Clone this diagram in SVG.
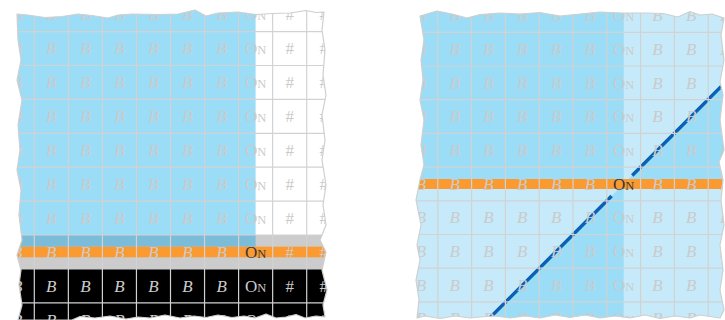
<svg xmlns="http://www.w3.org/2000/svg" width="725" height="320" viewBox="0 0 725 320">
<style>
.g{stroke:#d2d2d2;stroke-width:1.2;fill:none}
.t{font-family:"Liberation Serif",serif;font-size:17px;fill:#cbcbcb;text-anchor:middle}
.b{font-style:italic}
.n{font-size:12.5px}
.d{fill:#383838}
.edge{fill:none;stroke:#cfcfcf;stroke-width:1.2;stroke-linejoin:round}
</style>
<defs>
<path id="leftOutline" d="M17,14 L28,15 L45,17.5 L62,16.5 L78,14 L92,15.5 L108,18 L118,15 L132,14 L158,14.5 L178,14 L195,10 L206,16 L218,13 L238,12 L256,14.5 L272,13.5 L290,13 L306,10.5 L316,12.5 L324,12 L322,30 L325,50 L323,75 L326,95 L322,115 L325,140 L322,160 L326,185 L323,205 L326,225 L320,240 L326,252 L322,270 L327,290 L323,305 L325,317 L316,316 L305,318 L296,314.5 L286,317 L276,318 L266,314 L255,318 L244,316 L232,317.5 L218,315 L206,317.5 L194,316 L180,318 L165,315 L150,318 L138,317 L126,319 L110,316 L95,318 L80,316.5 L72,320 L18,320 L22,305 L19,285 L21,270 L17,255 L22,240 L19,215 L21,190 L17,170 L20,150 L18,125 L22,100 L17,80 L21,60 L18,40 Z"/>
<path id="rightOutline" d="M420,16 L437,11 L452,14 L467,18 L480,14.5 L500,13 L520,14 L540,12.5 L560,16 L580,14 L600,12 L622,13 L645,13 L663,13.5 L678,17 L690,11.5 L700,15 L712,14 L724,18 L721,35 L724,60 L720,82 L723,95 L720,120 L724,150 L719,162 L723,180 L721,200 L724,225 L720,245 L723,270 L720,290 L724,310 L720,318 L700,315 L690,318 L675,316 L660,318.5 L645,315 L630,318 L615,316 L600,318 L585,315 L570,317.5 L555,315 L540,318 L525,316 L510,318 L495,316 L480,317 L470,318 L455,316 L440,318.5 L425,316 L417,318 L419,300 L416,280 L420,260 L417,245 L421,225 L416,200 L420,180 L424,165 L421,145 L424,120 L420,100 L423,80 L421,60 L424,40 Z"/>
<clipPath id="clipL"><use href="#leftOutline"/></clipPath>
<clipPath id="clipR"><use href="#rightOutline"/></clipPath>
</defs>

<g id="left-panel">
<g clip-path="url(#clipL)">
<rect x="0" y="0" width="340" height="330" fill="#ffffff"/>
<rect x="0" y="0" width="255.6" height="235" fill="#9bdcf6"/>
<rect x="0" y="235" width="340" height="34" fill="#cccccc"/>
<rect x="0" y="235" width="255.6" height="11.7" fill="#7bbcd8"/>
<rect x="0" y="246.7" width="340" height="10.6" fill="#fb9a30"/>
<rect x="0" y="268.9" width="340" height="60" fill="#000000"/>
<g class="g">
<path d="M34.3,0V330M68.35,0V330M102.4,0V330M136.45,0V330M170.5,0V330M204.55,0V330M238.6,0V330M272.65,0V330M306.7,0V330"/>
<path d="M0,31.6H340M0,65.5H340M0,99.4H340M0,133.3H340M0,167.2H340M0,201.1H340M0,235H340M0,268.9H340M0,302.8H340"/>
</g>
<g class="t">
<text y="20.4"><tspan class="b" x="17.3">B</tspan><tspan class="b" x="51.3">B</tspan><tspan class="b" x="85.4">B</tspan><tspan class="b" x="119.4">B</tspan><tspan class="b" x="153.5">B</tspan><tspan class="b" x="187.5">B</tspan><tspan class="b" x="221.6">B</tspan></text>
<text y="54.3"><tspan class="b" x="17.3">B</tspan><tspan class="b" x="51.3">B</tspan><tspan class="b" x="85.4">B</tspan><tspan class="b" x="119.4">B</tspan><tspan class="b" x="153.5">B</tspan><tspan class="b" x="187.5">B</tspan><tspan class="b" x="221.6">B</tspan></text>
<text y="88.2"><tspan class="b" x="17.3">B</tspan><tspan class="b" x="51.3">B</tspan><tspan class="b" x="85.4">B</tspan><tspan class="b" x="119.4">B</tspan><tspan class="b" x="153.5">B</tspan><tspan class="b" x="187.5">B</tspan><tspan class="b" x="221.6">B</tspan></text>
<text y="122.1"><tspan class="b" x="17.3">B</tspan><tspan class="b" x="51.3">B</tspan><tspan class="b" x="85.4">B</tspan><tspan class="b" x="119.4">B</tspan><tspan class="b" x="153.5">B</tspan><tspan class="b" x="187.5">B</tspan><tspan class="b" x="221.6">B</tspan></text>
<text y="156"><tspan class="b" x="17.3">B</tspan><tspan class="b" x="51.3">B</tspan><tspan class="b" x="85.4">B</tspan><tspan class="b" x="119.4">B</tspan><tspan class="b" x="153.5">B</tspan><tspan class="b" x="187.5">B</tspan><tspan class="b" x="221.6">B</tspan></text>
<text y="189.9"><tspan class="b" x="17.3">B</tspan><tspan class="b" x="51.3">B</tspan><tspan class="b" x="85.4">B</tspan><tspan class="b" x="119.4">B</tspan><tspan class="b" x="153.5">B</tspan><tspan class="b" x="187.5">B</tspan><tspan class="b" x="221.6">B</tspan></text>
<text y="223.8"><tspan class="b" x="17.3">B</tspan><tspan class="b" x="51.3">B</tspan><tspan class="b" x="85.4">B</tspan><tspan class="b" x="119.4">B</tspan><tspan class="b" x="153.5">B</tspan><tspan class="b" x="187.5">B</tspan><tspan class="b" x="221.6">B</tspan></text>
<text y="257.7"><tspan class="b" x="17.3">B</tspan><tspan class="b" x="51.3">B</tspan><tspan class="b" x="85.4">B</tspan><tspan class="b" x="119.4">B</tspan><tspan class="b" x="153.5">B</tspan><tspan class="b" x="187.5">B</tspan><tspan class="b" x="221.6">B</tspan></text>
<text y="291.6"><tspan class="b" x="17.3">B</tspan><tspan class="b" x="51.3">B</tspan><tspan class="b" x="85.4">B</tspan><tspan class="b" x="119.4">B</tspan><tspan class="b" x="153.5">B</tspan><tspan class="b" x="187.5">B</tspan><tspan class="b" x="221.6">B</tspan></text>
<text y="325.5"><tspan class="b" x="17.3">B</tspan><tspan class="b" x="51.3">B</tspan><tspan class="b" x="85.4">B</tspan><tspan class="b" x="119.4">B</tspan><tspan class="b" x="153.5">B</tspan><tspan class="b" x="187.5">B</tspan><tspan class="b" x="221.6">B</tspan></text>
<text x="255.6" y="20.4">O<tspan class="n">N</tspan></text>
<text x="255.6" y="54.3">O<tspan class="n">N</tspan></text>
<text x="255.6" y="88.2">O<tspan class="n">N</tspan></text>
<text x="255.6" y="122.1">O<tspan class="n">N</tspan></text>
<text x="255.6" y="156">O<tspan class="n">N</tspan></text>
<text x="255.6" y="189.9">O<tspan class="n">N</tspan></text>
<text x="255.6" y="223.8">O<tspan class="n">N</tspan></text>
<text x="255.6" y="257.7" class="d">O<tspan class="n">N</tspan></text>
<text x="255.6" y="291.6">O<tspan class="n">N</tspan></text>
<text x="255.6" y="325.5">O<tspan class="n">N</tspan></text>
<text y="20.4"><tspan x="289.7">#</tspan><tspan x="323.7">#</tspan></text>
<text y="54.3"><tspan x="289.7">#</tspan><tspan x="323.7">#</tspan></text>
<text y="88.2"><tspan x="289.7">#</tspan><tspan x="323.7">#</tspan></text>
<text y="122.1"><tspan x="289.7">#</tspan><tspan x="323.7">#</tspan></text>
<text y="156"><tspan x="289.7">#</tspan><tspan x="323.7">#</tspan></text>
<text y="189.9"><tspan x="289.7">#</tspan><tspan x="323.7">#</tspan></text>
<text y="223.8"><tspan x="289.7">#</tspan><tspan x="323.7">#</tspan></text>
<text y="257.7"><tspan x="289.7">#</tspan><tspan x="323.7">#</tspan></text>
<text y="291.6"><tspan x="289.7">#</tspan><tspan x="323.7">#</tspan></text>
<text y="325.5"><tspan x="289.7">#</tspan><tspan x="323.7">#</tspan></text>
</g>
</g>
<use href="#leftOutline" class="edge"/>
</g>

<g id="right-panel">
<g clip-path="url(#clipR)">
<rect x="400" y="0" width="340" height="330" fill="#c6eaf9"/>
<rect x="400" y="0" width="223.7" height="179" fill="#9bdcf6"/>
<polygon points="628.65,179 735,72.65 735,179" fill="#9bdcf6"/>
<polygon points="618.65,189 623.7,189 623.7,330 477.65,330" fill="#9bdcf6"/>
<g id="connectors">
<path d="M486,321.65L611.6,196M632.2,175.45L735,72.65" fill="none" stroke="#0b62b4" stroke-width="3.4"/>
</g>
<rect x="400" y="179" width="340" height="10" fill="#fb9a30"/>
<g class="g">
<path d="M437.8,0V330M471.6,0V330M505.4,0V330M539.2,0V330M573,0V330M606.8,0V330M640.6,0V330M674.4,0V330M708.2,0V330"/>
<path d="M400,32.3H740M400,66H740M400,99.7H740M400,133.4H740M400,167.1H740M400,200.8H740M400,234.5H740M400,268.2H740M400,301.9H740"/>
</g>
<g class="t">
<text y="21.1"><tspan class="b" x="420.9">B</tspan><tspan class="b" x="454.7">B</tspan><tspan class="b" x="488.5">B</tspan><tspan class="b" x="522.3">B</tspan><tspan class="b" x="556.1">B</tspan><tspan class="b" x="589.9">B</tspan><tspan class="b" x="657.5">B</tspan><tspan class="b" x="691.3">B</tspan><tspan class="b" x="725.1">B</tspan></text>
<text y="54.8"><tspan class="b" x="420.9">B</tspan><tspan class="b" x="454.7">B</tspan><tspan class="b" x="488.5">B</tspan><tspan class="b" x="522.3">B</tspan><tspan class="b" x="556.1">B</tspan><tspan class="b" x="589.9">B</tspan><tspan class="b" x="657.5">B</tspan><tspan class="b" x="691.3">B</tspan><tspan class="b" x="725.1">B</tspan></text>
<text y="88.5"><tspan class="b" x="420.9">B</tspan><tspan class="b" x="454.7">B</tspan><tspan class="b" x="488.5">B</tspan><tspan class="b" x="522.3">B</tspan><tspan class="b" x="556.1">B</tspan><tspan class="b" x="589.9">B</tspan><tspan class="b" x="657.5">B</tspan><tspan class="b" x="691.3">B</tspan><tspan class="b" x="725.1">B</tspan></text>
<text y="122.2"><tspan class="b" x="420.9">B</tspan><tspan class="b" x="454.7">B</tspan><tspan class="b" x="488.5">B</tspan><tspan class="b" x="522.3">B</tspan><tspan class="b" x="556.1">B</tspan><tspan class="b" x="589.9">B</tspan><tspan class="b" x="657.5">B</tspan><tspan class="b" x="691.3">B</tspan><tspan class="b" x="725.1">B</tspan></text>
<text y="155.9"><tspan class="b" x="420.9">B</tspan><tspan class="b" x="454.7">B</tspan><tspan class="b" x="488.5">B</tspan><tspan class="b" x="522.3">B</tspan><tspan class="b" x="556.1">B</tspan><tspan class="b" x="589.9">B</tspan><tspan class="b" x="657.5">B</tspan><tspan class="b" x="691.3">B</tspan><tspan class="b" x="725.1">B</tspan></text>
<text y="189.6"><tspan class="b" x="420.9">B</tspan><tspan class="b" x="454.7">B</tspan><tspan class="b" x="488.5">B</tspan><tspan class="b" x="522.3">B</tspan><tspan class="b" x="556.1">B</tspan><tspan class="b" x="589.9">B</tspan><tspan class="b" x="657.5">B</tspan><tspan class="b" x="691.3">B</tspan><tspan class="b" x="725.1">B</tspan></text>
<text y="223.3"><tspan class="b" x="420.9">B</tspan><tspan class="b" x="454.7">B</tspan><tspan class="b" x="488.5">B</tspan><tspan class="b" x="522.3">B</tspan><tspan class="b" x="556.1">B</tspan><tspan class="b" x="589.9">B</tspan><tspan class="b" x="657.5">B</tspan><tspan class="b" x="691.3">B</tspan><tspan class="b" x="725.1">B</tspan></text>
<text y="257"><tspan class="b" x="420.9">B</tspan><tspan class="b" x="454.7">B</tspan><tspan class="b" x="488.5">B</tspan><tspan class="b" x="522.3">B</tspan><tspan class="b" x="556.1">B</tspan><tspan class="b" x="589.9">B</tspan><tspan class="b" x="657.5">B</tspan><tspan class="b" x="691.3">B</tspan><tspan class="b" x="725.1">B</tspan></text>
<text y="290.7"><tspan class="b" x="420.9">B</tspan><tspan class="b" x="454.7">B</tspan><tspan class="b" x="488.5">B</tspan><tspan class="b" x="522.3">B</tspan><tspan class="b" x="556.1">B</tspan><tspan class="b" x="589.9">B</tspan><tspan class="b" x="657.5">B</tspan><tspan class="b" x="691.3">B</tspan><tspan class="b" x="725.1">B</tspan></text>
<text y="324.4"><tspan class="b" x="420.9">B</tspan><tspan class="b" x="454.7">B</tspan><tspan class="b" x="488.5">B</tspan><tspan class="b" x="522.3">B</tspan><tspan class="b" x="556.1">B</tspan><tspan class="b" x="589.9">B</tspan><tspan class="b" x="657.5">B</tspan><tspan class="b" x="691.3">B</tspan><tspan class="b" x="725.1">B</tspan></text>
<text x="623.7" y="21.1">O<tspan class="n">N</tspan></text>
<text x="623.7" y="54.8">O<tspan class="n">N</tspan></text>
<text x="623.7" y="88.5">O<tspan class="n">N</tspan></text>
<text x="623.7" y="122.2">O<tspan class="n">N</tspan></text>
<text x="623.7" y="155.9">O<tspan class="n">N</tspan></text>
<text x="623.7" y="189.6" class="d">O<tspan class="n">N</tspan></text>
<text x="623.7" y="223.3">O<tspan class="n">N</tspan></text>
<text x="623.7" y="257">O<tspan class="n">N</tspan></text>
<text x="623.7" y="290.7">O<tspan class="n">N</tspan></text>
<text x="623.7" y="324.4">O<tspan class="n">N</tspan></text>
</g>
</g>
<use href="#rightOutline" class="edge"/>
</g>
</svg>
